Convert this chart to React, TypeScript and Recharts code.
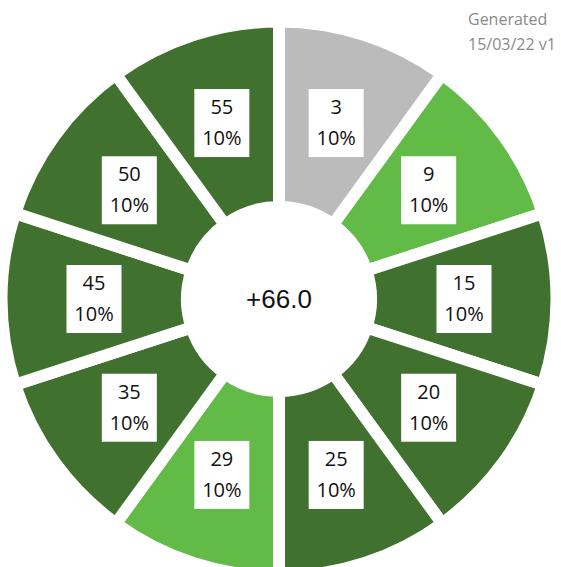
import { PieChart, Pie, Cell } from 'recharts';

const scores = ['3', '9', '15', '20', '25', '29', '35', '45', '50', '55'];
const shares = [10, 10, 10, 10, 10, 10, 10, 10, 10, 10];
const colors = [
  '#BBBBBB', '#62BB46', '#41712F', '#41712F', '#41712F',
  '#62BB46', '#41712F', '#41712F', '#41712F', '#41712F',
];
const centerText = '+66.0';
const footnote = ['Generated', '15/03/22 v1'];

const data = scores.map((s, i) => ({ name: s, value: shares[i] }));

const RADIAN = Math.PI / 180;
const FONT = '"Open Sans", sans-serif';

const renderLabel = (props: any) => {
  const { cx, cy, midAngle, index } = props;
  const r = 185;
  const x = cx + r * Math.cos(-midAngle * RADIAN);
  const y = cy + r * Math.sin(-midAngle * RADIAN);
  return (
    <g>
      <rect x={x - 27.5} y={y - 34} width={55} height={68} fill="#fff" />
      <text x={x} y={y - 9} textAnchor="middle" fontSize={20} fontFamily={FONT} fill="#111">
        {scores[index]}
      </text>
      <text x={x} y={y + 22} textAnchor="middle" fontSize={20} fontFamily={FONT} fill="#111">
        {`${shares[index]}%`}
      </text>
    </g>
  );
};

export default function App() {
  return (
    <div style={{ position: 'absolute', left: 0, top: 0, width: 561, height: 567, background: '#fff' }}>
      <PieChart width={561} height={567} margin={{ top: 0, right: 0, bottom: 0, left: 0 }}>
        <Pie
          data={data}
          dataKey="value"
          cx={279}
          cy={299}
          innerRadius={92}
          outerRadius={277.5}
          startAngle={90}
          endAngle={-270}
          stroke="#fff"
          strokeWidth={12}
          label={renderLabel}
          labelLine={false}
          isAnimationActive={false}
        >
          {data.map((d, i) => (
            <Cell key={d.name} fill={colors[i]} stroke="#fff" strokeWidth={12} />
          ))}
        </Pie>
        <text x={279} y={299} textAnchor="middle" dominantBaseline="central" fontSize={26} fontFamily='"Liberation Sans", Arial, sans-serif' fill="#111">
          {centerText}
        </text>
        <text x={468} y={25} textAnchor="start" fontSize={16} fontFamily={FONT} fill="#8a8a8a">
          {footnote[0]}
        </text>
        <text x={468} y={50} textAnchor="start" fontSize={16} fontFamily={FONT} fill="#8a8a8a">
          {footnote[1]}
        </text>
      </PieChart>
    </div>
  );
}
